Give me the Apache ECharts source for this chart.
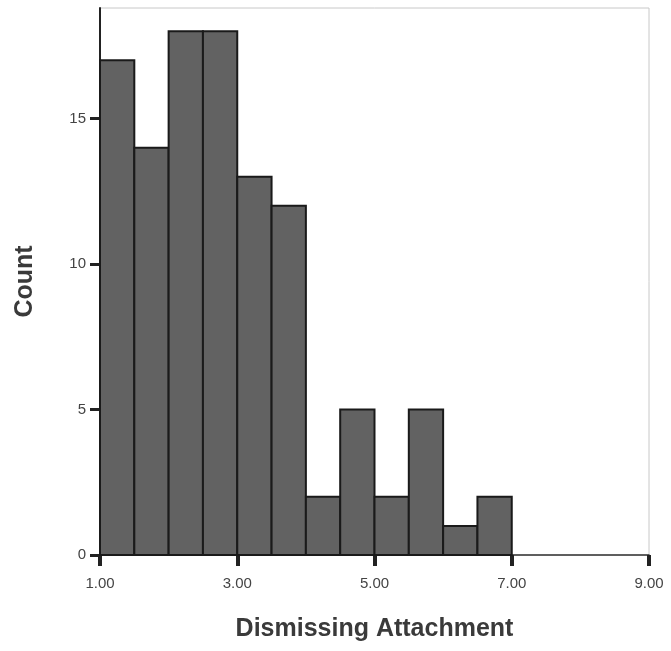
<!DOCTYPE html>
<html>
<head>
<meta charset="utf-8">
<script src="https://cdn.jsdelivr.net/npm/echarts@6/dist/echarts.min.js"></script>
<style>html,body{margin:0;padding:0;background:#fff}#c{width:671px;height:651px}</style>
</head>
<body>
<div id="c"></div>
<script>
const binStarts = [1.0, 1.5, 2.0, 2.5, 3.0, 3.5, 4.0, 4.5, 5.0, 5.5, 6.0, 6.5];
const binWidth = 0.5;
const counts = [17, 14, 18, 18, 13, 12, 2, 5, 2, 5, 1, 2];
const xTicks = [1, 3, 5, 7, 9];
const yTicks = [0, 5, 10, 15];

const chart = echarts.init(document.getElementById('c'), null, {renderer: 'canvas'});
const data = binStarts.map((s, i) => [s, s + binWidth, counts[i]]);
const font = 'Liberation Sans, Arial, sans-serif';

chart.setOption({
  backgroundColor: '#ffffff',
  animation: false,
  grid: {left: 100, right: 22, top: 8, bottom: 96, show: true, borderColor: '#c8c8c8', borderWidth: 1,
    containLabel: false, outerBoundsMode: 'none'},
  xAxis: {
    type: 'value', min: 1, max: 9, interval: 2,
    name: 'Dismissing Attachment', nameLocation: 'middle', nameGap: 62,
    nameTextStyle: {fontFamily: font, fontSize: 25, fontWeight: 'bold', color: '#3a3a3a'},
    axisLine: {show: true, lineStyle: {color: '#333', width: 1.5}},
    axisTick: {show: true, length: 11, lineStyle: {color: '#222', width: 4}},
    axisLabel: {fontFamily: font, fontSize: 15, color: '#444', margin: 21,
      formatter: v => xTicks.includes(v) ? v.toFixed(2) : ''},
    splitLine: {show: false}
  },
  yAxis: {
    type: 'value', min: 0, max: 18.8, interval: 5,
    name: 'Count', nameLocation: 'middle', nameGap: 62,
    nameTextStyle: {fontFamily: font, fontSize: 25, fontWeight: 'bold', color: '#3a3a3a'},
    axisLine: {show: true, lineStyle: {color: '#222', width: 2}},
    axisTick: {show: true, length: 10, lineStyle: {color: '#222', width: 3}},
    axisLabel: {fontFamily: font, fontSize: 15, color: '#444', margin: 14,
      showMaxLabel: false,
      formatter: v => yTicks.includes(v) ? String(v) : ''},
    splitLine: {show: false}
  },
  series: [{
    type: 'custom',
    data: data,
    encode: {x: [0, 1], y: 2},
    renderItem: function (params, api) {
      const p0 = api.coord([api.value(0), 0]);
      const p1 = api.coord([api.value(1), api.value(2)]);
      return {
        type: 'rect',
        shape: {x: p0[0], y: p1[1], width: p1[0] - p0[0], height: p0[1] - p1[1]},
        style: {fill: '#626262', stroke: '#1a1a1a', lineWidth: 2}
      };
    }
  }]
});
</script>
</body>
</html>
